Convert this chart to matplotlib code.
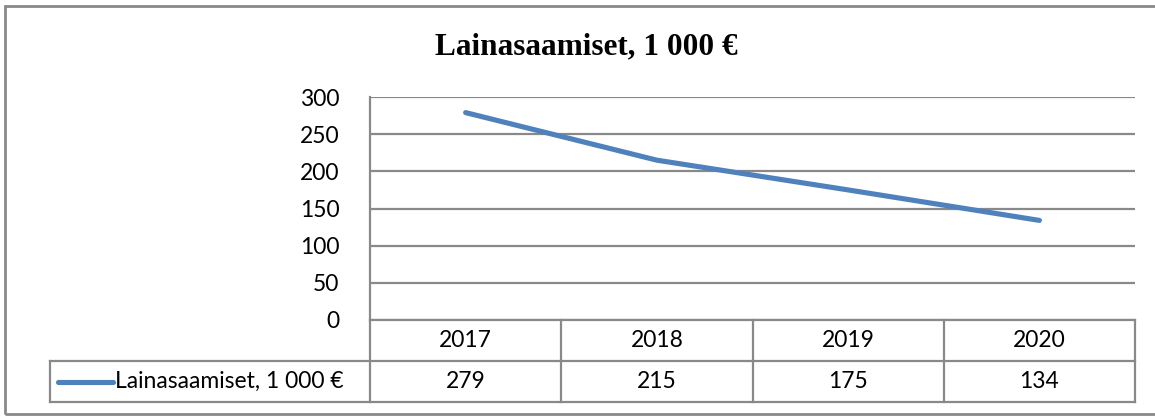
import matplotlib.pyplot as plt
from matplotlib.patches import Rectangle
from matplotlib.lines import Line2D

title = 'Lainasaamiset, 1 000 €'
series_name = 'Lainasaamiset, 1 000 €'
years = ['2017', '2018', '2019', '2020']
values = [279, 215, 175, 134]
yticks = [0, 50, 100, 150, 200, 250, 300]

W, H = 1155, 417
line_col = '#4f81bd'
grid_col = '#898989'
tick_font = 'Lato'

fig = plt.figure(figsize=(W / 100, H / 100), dpi=100)

def px(x0, y0, x1, y1):
    # pixel box (top-left origin) -> figure fraction rect
    return [x0 / W, 1 - y1 / H, (x1 - x0) / W, (y1 - y0) / H]

# outer chart border
fig.add_artist(Rectangle((5 / W, 1 - 414 / H), (1160 - 5) / W, (414 - 6) / H,
                         transform=fig.transFigure, fill=False,
                         edgecolor=grid_col, linewidth=2))

fig.text(586 / W, 1 - 47 / H, title, ha='center', va='center',
         family='Liberation Serif', weight='bold', fontsize=22.5)

# plot area
ax = fig.add_axes(px(370, 97, 1135, 320))
xs = list(range(len(years)))
ax.plot(xs, values, color=line_col, linewidth=3.7, solid_capstyle='round')
ax.set_xlim(-0.5, len(years) - 0.5)
ax.set_ylim(0, 300)
ax.set_yticks(yticks)
ax.set_yticklabels([str(v) for v in yticks], family=tick_font, fontsize=16.5)
ax.set_xticks([])
ax.tick_params(axis='y', length=0, pad=22)
ax.yaxis.grid(True, color=grid_col, linewidth=1.6)
ax.set_axisbelow(True)
for s in ['top', 'right', 'bottom']:
    ax.spines[s].set_visible(False)
ax.spines['left'].set_color(grid_col)
ax.spines['left'].set_linewidth(1.6)

# data table
tab = fig.add_axes(px(370, 320, 1135, 402))
tab.set_xlim(-0.5, len(years) - 0.5)
tab.set_ylim(0, 2)
tab.axis('off')
col_px = (1135 - 370) / len(years)
leg_left = -0.5 - (370 - 50) / col_px
kw = dict(color=grid_col, linewidth=1.6, clip_on=False)
for i in range(len(years) + 1):
    tab.plot([i - 0.5, i - 0.5], [0, 2], **kw)
tab.plot([leg_left, len(years) - 0.5], [0, 0], **kw)
tab.plot([leg_left, len(years) - 0.5], [1, 1], **kw)
tab.plot([-0.5, len(years) - 0.5], [2, 2], **kw)
tab.plot([leg_left, leg_left], [0, 1], **kw)
for i, (yr, v) in enumerate(zip(years, values)):
    tab.text(i, 1.5, yr, ha='center', va='center', family=tick_font, fontsize=16.5)
    tab.text(i, 0.5, str(v), ha='center', va='center', family=tick_font, fontsize=16.5)
# legend key inside the row header
key_x0 = leg_left + (58 - 50) / col_px
key_x1 = leg_left + (113 - 50) / col_px
tab.add_line(Line2D([key_x0, key_x1], [0.5, 0.5], color=line_col, linewidth=3.7,
                    solid_capstyle='round', clip_on=False))
tab.text(key_x1 + 2 / col_px, 0.5, series_name, ha='left', va='center',
         family=tick_font, fontsize=16.5)

fig.savefig('out.png', dpi=100)
